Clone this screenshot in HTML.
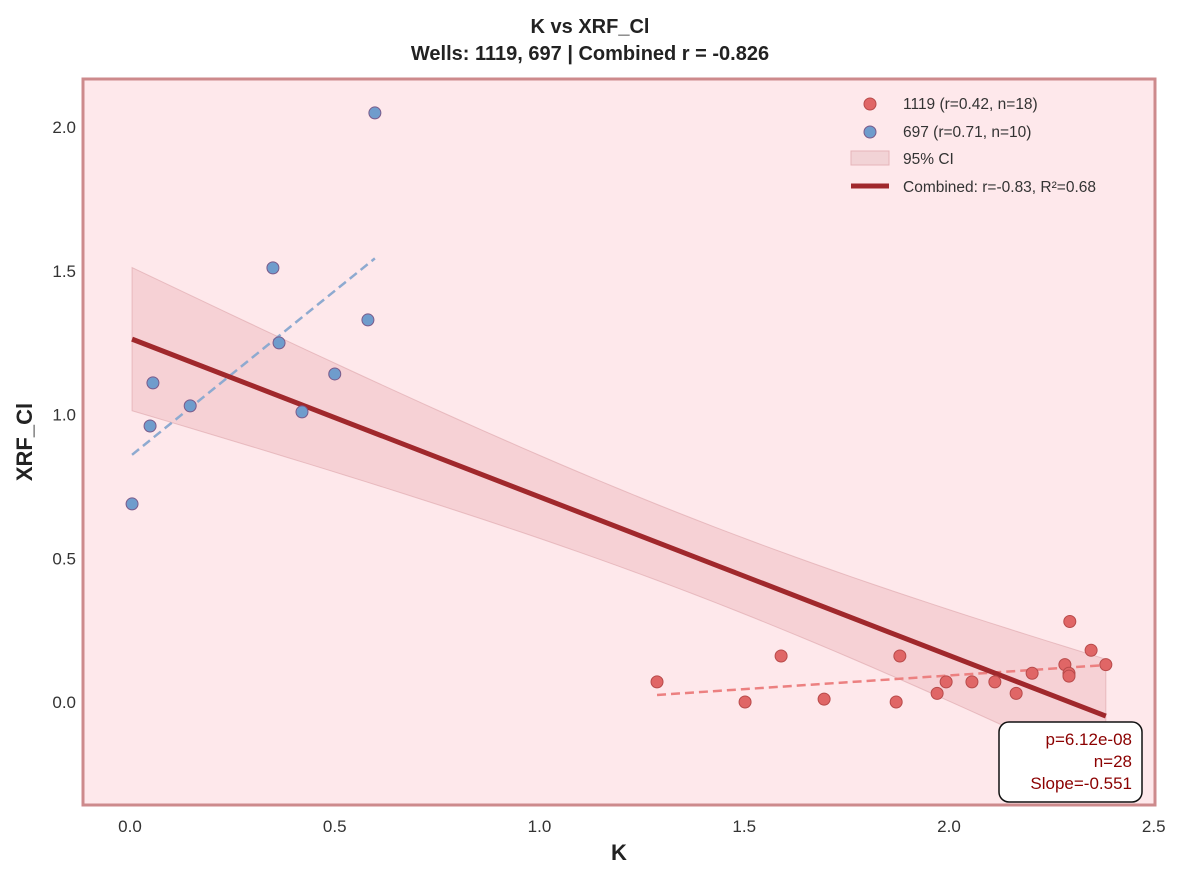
<!DOCTYPE html>
<html><head><meta charset="utf-8"><style>
body{margin:0;background:#fff;}
svg text{font-family:"Liberation Sans",Arial,sans-serif;}
</style></head><body>
<svg id="chart" width="1181" height="880" xmlns="http://www.w3.org/2000/svg">
<rect width="1181" height="880" fill="#fff"/>
<text x="590" y="33" text-anchor="middle" font-size="20" font-weight="bold" fill="#222">K vs XRF_Cl</text>
<text x="590" y="60" text-anchor="middle" font-size="20" font-weight="bold" fill="#222">Wells: 1119, 697 | Combined r = -0.826</text>
<rect x="83" y="79" width="1072" height="726" fill="#fee8eb"/>
<g id="marks"></g>
<rect x="83" y="79" width="1072" height="726" fill="none" stroke="#cd8a8c" stroke-width="3"/>
<g id="ticks"></g>
<text x="619" y="860" text-anchor="middle" font-size="22" font-weight="bold" fill="#222">K</text>
<text x="32" y="442" text-anchor="middle" font-size="22" font-weight="bold" fill="#222" transform="rotate(-90 32 442)">XRF_Cl</text>
<g font-size="15.5" fill="#333">
<circle cx="870" cy="104" r="6" fill="#e06666" stroke="#b84a4a"/>
<text x="903" y="109">1119 (r=0.42, n=18)</text>
<circle cx="870" cy="132" r="6" fill="#6f9ccc" stroke="#7a5a8a"/>
<text x="903" y="137">697 (r=0.71, n=10)</text>
<rect x="851" y="151" width="38" height="14" fill="#f2d3d6" stroke="#e5b5b9"/>
<text x="903" y="164">95% CI</text>
<line x1="851" y1="186" x2="889" y2="186" stroke="#a0282c" stroke-width="5"/>
<text x="903" y="192">Combined: r=-0.83, R²=0.68</text>
</g>
<g>
<rect x="999" y="722" width="143" height="80" rx="10" fill="#fff" stroke="#111" stroke-width="1.5"/>
<text x="1132" y="745" text-anchor="end" font-size="17" fill="#8b0000">p=6.12e-08</text>
<text x="1132" y="767" text-anchor="end" font-size="17" fill="#8b0000">n=28</text>
<text x="1132" y="789" text-anchor="end" font-size="17" fill="#8b0000">Slope=-0.551</text>
</g>
</svg>
<script>
const kRed=[1.287,1.502,1.59,1.695,1.871,1.88,1.971,1.993,2.056,2.112,2.164,2.203,2.283,2.293,2.295,2.293,2.347,2.383];
const clRed=[0.07,0.0,0.16,0.01,0.0,0.16,0.03,0.07,0.07,0.07,0.03,0.1,0.13,0.1,0.28,0.09,0.18,0.13];
const kBlue=[0.005,0.049,0.056,0.147,0.349,0.364,0.42,0.5,0.581,0.598];
const clBlue=[0.689,0.96,1.11,1.03,1.51,1.249,1.009,1.141,1.329,2.049];
const xTicks=[0,0.5,1,1.5,2,2.5];
const xTickLabels=["0.0","0.5","1.0","1.5","2.0","2.5"];
const yTicks=[0,0.5,1,1.5,2];
const yTickLabels=["0.0","0.5","1.0","1.5","2.0"];
const NS="http://www.w3.org/2000/svg";
const X=v=>130+v*409.5, Y=v=>702-v*287.5;
const marks=document.getElementById('marks'), ticks=document.getElementById('ticks');
function mk(tag,attrs,parent){const e=document.createElementNS(NS,tag);for(const k in attrs)e.setAttribute(k,attrs[k]);parent.appendChild(e);return e;}
function fit(xs,ys){const n=xs.length,mx=xs.reduce((a,b)=>a+b)/n,my=ys.reduce((a,b)=>a+b)/n;let sxx=0,sxy=0;for(let i=0;i<n;i++){sxx+=(xs[i]-mx)**2;sxy+=(xs[i]-mx)*(ys[i]-my);}const b=sxy/sxx,a=my-b*mx;let sse=0;for(let i=0;i<n;i++)sse+=(ys[i]-a-b*xs[i])**2;return{a,b,mx,sxx,n,s:Math.sqrt(sse/(n-2))};}
const allK=kRed.concat(kBlue), allC=clRed.concat(clBlue);
const f=fit(allK,allC);
const x0=Math.min(...allK), x1=Math.max(...allK);
let up=[],lo=[];
for(let i=0;i<=50;i++){const x=x0+(x1-x0)*i/50,yh=f.a+f.b*x,se=f.s*Math.sqrt(1/f.n+(x-f.mx)**2/f.sxx)*2.056;up.push(X(x)+','+Y(yh+se));lo.unshift(X(x)+','+Y(yh-se));}
let ci=mk('polygon',{points:up.concat(lo).join(' '),fill:'#e8a5ad',"fill-opacity":0.35,stroke:'#d89aa0',"stroke-opacity":0.5},marks);


function dashed(xs,ys,color,name){const g=fit(xs,ys),a=Math.min(...xs),b=Math.max(...xs);const l=mk('line',{x1:X(a),y1:Y(g.a+g.b*a),x2:X(b),y2:Y(g.a+g.b*b),stroke:color,"stroke-width":2.5,"stroke-dasharray":"9,5"},marks);

}
dashed(kBlue,clBlue,'#8eaad0','trend-697');
dashed(kRed,clRed,'#ec8080','trend-1119');
const cl=mk('line',{x1:X(x0),y1:Y(f.a+f.b*x0),x2:X(x1),y2:Y(f.a+f.b*x1),stroke:'#a0282c',"stroke-width":5},marks);


kRed.forEach((k,i)=>{const c=mk('circle',{cx:X(k),cy:Y(clRed[i]),r:6,fill:'#e06666',stroke:'#b84a4a',"stroke-width":1},marks);

});
kBlue.forEach((k,i)=>{const c=mk('circle',{cx:X(k),cy:Y(clBlue[i]),r:6,fill:'#6f9ccc',stroke:'#7a5a8a',"stroke-width":1},marks);

});
xTicks.forEach((t,i)=>{const e=mk('text',{x:X(t),y:832,"text-anchor":"middle","font-size":17,fill:'#333'},ticks);e.textContent=xTickLabels[i];

});
yTicks.forEach((t,i)=>{const e=mk('text',{x:76,y:Y(t)+6,"text-anchor":"end","font-size":17,fill:'#333'},ticks);e.textContent=yTickLabels[i];

});
</script>
</body></html>
